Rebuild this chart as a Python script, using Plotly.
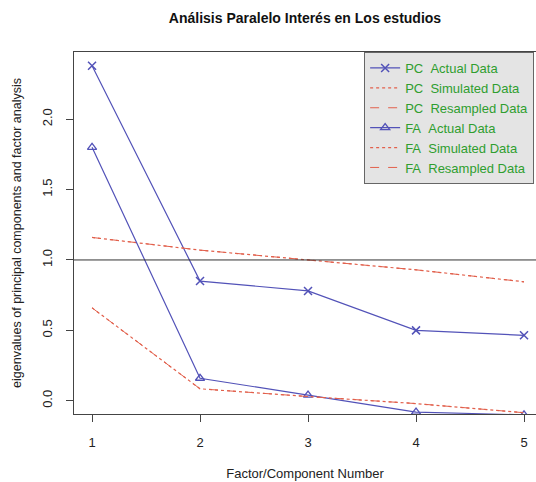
import plotly.graph_objects as go

factors = [1, 2, 3, 4, 5]
pc_actual = [2.38, 0.85, 0.78, 0.50, 0.465]
pc_simulated = [1.16, 1.07, 1.0, 0.93, 0.845]
pc_resampled = [1.16, 1.07, 1.0, 0.93, 0.845]
fa_actual = [1.80, 0.16, 0.04, -0.08, -0.10]
fa_simulated = [0.66, 0.085, 0.03, -0.02, -0.085]
fa_resampled = [0.66, 0.085, 0.03, -0.02, -0.085]
y_ticks = [0.0, 0.5, 1.0, 1.5, 2.0]
ref_line = 1.0

BLUE = "#5252b8"
RED = "#e2604c"
GREEN = "#2f9e2f"
FONT = "Liberation Sans, Arial, sans-serif"

nb = "\u00a0"
fig = go.Figure()
fig.add_trace(go.Scatter(x=factors, y=pc_actual, mode="lines+markers", name=f"PC{nb}{nb}Actual Data",
                         line=dict(color=BLUE, width=1.2),
                         marker=dict(symbol="x-thin-open", size=8, color=BLUE, line=dict(color=BLUE, width=1.5))))
fig.add_trace(go.Scatter(x=factors, y=pc_simulated, mode="lines", name=f"PC{nb}{nb}Simulated Data",
                         line=dict(color=RED, width=1.2, dash="dot")))
fig.add_trace(go.Scatter(x=factors, y=pc_resampled, mode="lines", name=f"PC{nb}{nb}Resampled Data",
                         line=dict(color=RED, width=1.0, dash="dash")))
fig.add_trace(go.Scatter(x=factors, y=fa_actual, mode="lines+markers", name=f"FA{nb}{nb}Actual Data",
                         line=dict(color=BLUE, width=1.2),
                         marker=dict(symbol="triangle-up-open", size=8, color=BLUE, line=dict(color=BLUE, width=1.3))))
fig.add_trace(go.Scatter(x=factors, y=fa_simulated, mode="lines", name=f"FA{nb}{nb}Simulated Data",
                         line=dict(color=RED, width=1.2, dash="dot")))
fig.add_trace(go.Scatter(x=factors, y=fa_resampled, mode="lines", name=f"FA{nb}{nb}Resampled Data",
                         line=dict(color=RED, width=1.0, dash="dash")))

fig.add_hline(y=ref_line, line=dict(color="#333333", width=1))

fig.update_layout(
    width=536, height=482,
    margin=dict(l=74, r=0, t=52, b=68),
    paper_bgcolor="white", plot_bgcolor="white",
    font=dict(family=FONT, size=12, color="#222222"),
    title=dict(text="<b>Análisis Paralelo Interés en Los estudios</b>",
               x=0.5, xref="paper", xanchor="center",
               y=1 - 18 / 482, yref="container", yanchor="middle",
               font=dict(family=FONT, size=14, color="#111111")),
    showlegend=True,
    legend=dict(x=0.628, y=1.0, xanchor="left", yanchor="top",
                bgcolor="#e4e4e4", bordercolor="#666666", borderwidth=1,
                font=dict(family=FONT, size=13, color=GREEN),
                itemwidth=30, tracegroupgap=0),
)
fig.update_xaxes(range=[0.833, 5.111], tickvals=factors, ticks="outside", ticklen=7,
                 tickcolor="#444444", showline=True, linecolor="#444444", linewidth=1, mirror=True,
                 showgrid=False, zeroline=False, ticklabelstandoff=9,
                 title=dict(text="Factor/Component Number", standoff=20, font=dict(size=13)),
                 tickfont=dict(size=13))
fig.update_yaxes(range=[-0.094, 2.477], tickvals=y_ticks, tickformat=".1f", tickangle=-90,
                 ticks="outside", ticklen=7, tickcolor="#444444",
                 showline=True, linecolor="#444444", linewidth=1, mirror=False,
                 showgrid=False, zeroline=False, ticklabelstandoff=9,
                 title=dict(text="eigenvalues of principal components and factor analysis", standoff=15,
                            font=dict(size=12.5)),
                 tickfont=dict(size=13))

fig.write_html("out.html")
